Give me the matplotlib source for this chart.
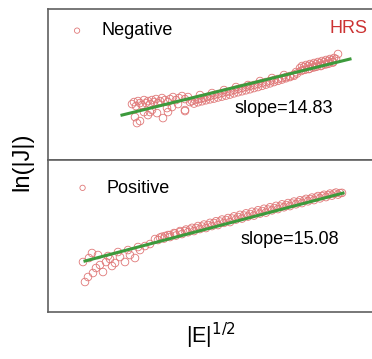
import numpy as np
import matplotlib.pyplot as plt

plt.rcParams['font.family'] = ['Liberation Sans', 'DejaVu Sans']

# negative bias: |E|^1/2 vs ln(|J|)
neg_x = [1.32, 1.34, 1.36, 1.38, 1.40, 1.42, 1.44, 1.46, 1.48, 1.50, 1.52, 1.54, 1.56,
         1.58, 1.60, 1.62, 1.65, 1.68, 1.70, 1.73, 1.76, 1.79, 1.82, 1.85, 1.88,
         1.35, 1.37, 1.40, 1.44, 1.48, 1.52, 1.57, 1.63, 1.67, 1.72, 1.78, 1.85, 1.90,
         1.50, 1.68, 1.85,
         1.92, 1.95, 1.98, 2.01, 2.04, 2.07, 2.10, 2.14, 2.18, 2.22, 2.26, 2.30, 2.34,
         2.38, 2.42, 2.46, 2.50, 2.54, 2.58, 2.62, 2.66, 2.70, 2.74, 2.78, 2.82, 2.86,
         2.90, 2.94, 2.97,
         2.00, 2.12, 2.24, 2.36, 2.48, 2.60, 2.72, 2.84, 2.96,
         1.94, 1.98, 2.02, 2.06, 2.10, 2.14, 2.18, 2.22, 2.26, 2.30, 2.34, 2.38, 2.42,
         2.46, 2.50, 2.54, 2.58, 2.62, 2.66, 2.70, 2.74, 2.78, 2.82, 2.86, 2.90, 2.94,
         3.00, 3.02, 3.04, 3.06, 3.08, 3.10, 3.12, 3.14, 3.16, 3.18, 3.20, 3.22, 3.24,
         3.26, 3.28, 3.30, 3.32, 3.34, 3.36, 3.38, 3.03, 3.09, 3.15, 3.21, 3.27, 3.33,
         3.01, 3.05, 3.09, 3.13, 3.17, 3.21, 3.25, 3.29, 3.33]
neg_y = [-10.4, -10.2, -10.6, -10.1, -10.3, -10.5, -10.0, -10.3, -10.1, -10.4, -10.0, -10.2, -9.9,
         -10.3, -10.1, -9.8, -10.0, -10.2, -9.9, -9.7, -10.0, -9.8, -9.6, -9.9, -9.7,
         -11.7, -12.3, -12.1, -11.2, -11.5, -11.0, -11.3, -11.8, -10.8, -10.7, -10.4, -11.0, -10.2,
         -11.2, -11.2, -11.1,
         -10.1, -10.0, -9.9, -9.85, -9.8, -9.7, -9.6, -9.5, -9.4, -9.3, -9.2, -9.15, -9.0,
         -8.9, -8.8, -8.7, -8.6, -8.5, -8.4, -8.3, -8.2, -8.1, -8.0, -7.9, -7.8, -7.7,
         -7.6, -7.45, -7.35,
         -9.5, -9.3, -9.0, -8.7, -8.5, -8.1, -7.8, -7.5, -7.2,
         -10.35, -10.22, -10.12, -10.02, -9.93, -9.85, -9.74, -9.65, -9.55, -9.45, -9.33, -9.22, -9.12,
         -9.02, -8.92, -8.8, -8.7, -8.58, -8.45, -8.33, -8.2, -8.08, -7.95, -7.82, -7.7, -7.58,
         -6.8, -6.6, -6.7, -6.5, -6.6, -6.4, -6.5, -6.3, -6.4, -6.2, -6.3, -6.1, -6.2,
         -6.0, -6.1, -5.9, -6.0, -5.8, -5.9, -5.4, -7.0, -6.9, -6.7, -6.6, -6.4, -6.2,
         -7.1, -6.98, -6.88, -6.75, -6.65, -6.55, -6.45, -6.35, -6.25]

# positive bias
pos_x = [0.85, 0.88, 0.93, 0.92, 1.03, 0.83, 0.96, 1.00, 0.89, 1.06, 1.10, 1.15, 1.20,
         1.25, 1.30, 1.35, 1.40, 0.98, 1.08, 1.18, 1.28, 1.38, 1.45, 1.12, 1.50,
         1.55, 1.60, 1.65, 1.70, 1.75, 1.80, 1.85, 1.90, 1.96, 2.02, 2.08, 2.14, 2.20,
         2.26, 2.32, 2.38, 2.44, 2.50, 2.56, 2.62, 2.68, 2.74, 2.80, 2.86, 2.92, 2.98,
         3.04, 3.10, 3.16, 3.22, 3.28, 3.34, 3.40,
         1.58, 1.70, 1.82, 1.94, 2.06, 2.18, 2.30, 2.42, 2.54, 2.66, 2.78, 2.90, 3.02,
         3.14, 3.26, 3.38,
         1.62, 1.68, 1.74, 1.80, 1.86, 1.92, 1.98, 2.04, 2.10, 2.16, 2.22, 2.28, 2.34,
         2.40, 2.46, 2.52, 2.58, 2.64, 2.70, 2.76, 2.82, 2.88, 2.94, 3.00, 3.06, 3.12,
         3.18, 3.24, 3.30, 3.36,
         1.64, 1.76, 1.88, 2.00, 2.12, 2.24, 2.36, 2.48, 2.60, 2.72, 2.84, 2.96, 3.08,
         3.20, 3.32, 3.42]
pos_y = [-13.2, -12.7, -12.3, -10.3, -12.2, -11.2, -11.8, -11.5, -10.8, -11.2, -10.9, -11.3, -10.7,
         -11.2, -10.5, -10.8, -10.0, -10.5, -10.6, -10.2, -10.0, -9.7, -9.6, -11.6, -9.4,
         -8.9, -8.75, -8.6, -8.5, -8.35, -8.2, -8.1, -7.95, -7.8, -7.65, -7.5, -7.3, -7.15,
         -7.0, -6.85, -6.7, -6.55, -6.4, -6.25, -6.1, -5.95, -5.8, -5.65, -5.5, -5.35, -5.2,
         -5.05, -4.9, -4.75, -4.6, -4.5, -4.35, -4.3,
         -9.0, -8.7, -8.4, -8.1, -7.8, -7.5, -7.2, -6.85, -6.55, -6.25, -5.9, -5.6, -5.3,
         -5.0, -4.7, -4.45,
         -8.67, -8.5, -8.3, -8.1, -7.95, -7.78, -7.6, -7.45, -7.28, -7.12, -6.95, -6.8, -6.63,
         -6.48, -6.33, -6.17, -6.02, -5.87, -5.72, -5.58, -5.43, -5.3, -5.15, -5.02, -4.88, -4.75,
         -4.6, -4.47, -4.35, -4.25,
         -8.85, -8.55, -8.22, -7.9, -7.6, -7.28, -6.95, -6.65, -6.35, -6.03, -5.72, -5.42, -5.12,
         -4.83, -4.55, -4.28]

# fitted lines (end points)
neg_fit_x = [1.22, 3.50]
neg_fit_y = [-11.5, -5.9]
pos_fit_x = [0.85, 3.43]
pos_fit_y = [-11.1, -4.3]

fig = plt.figure(figsize=(3.72, 3.59), dpi=100)
ax1 = fig.add_axes([0.129, 0.554, 0.871, 0.421])
ax2 = fig.add_axes([0.129, 0.131, 0.871, 0.423])

red = '#e07878'
green = '#3c9a3c'
panels = [
    (ax1, neg_x, neg_y, neg_fit_x, neg_fit_y, 'Negative', 'slope=14.83', 0.577, 0.344, (-0.005, 0.995)),
    (ax2, pos_x, pos_y, pos_fit_x, pos_fit_y, 'Positive', 'slope=15.08', 0.593, 0.474, (0.012, 0.955)),
]
for ax, x, y, fx, fy, name, slope, sx, sy, anchor in panels:
    ax.scatter(x, y, s=30, facecolors='none', edgecolors=red, linewidths=0.6, label=name)
    ax.plot(fx, fy, color=green, lw=2.2)
    ax.set_xlim(0.48, 3.72)
    ax.set_xticks([])
    ax.set_yticks([])
    ax.spines['right'].set_visible(False)
    for s in ['top', 'bottom', 'left']:
        ax.spines[s].set_color('#606060')
        ax.spines[s].set_linewidth(1.2)
    ax.text(sx, sy, slope, transform=ax.transAxes, fontsize=13, va='center')
    ax.legend(loc='upper left', frameon=False, fontsize=13, markerscale=0.7,
              handletextpad=0.35, borderaxespad=0.3, bbox_to_anchor=anchor)

ax1.set_ylim(-16.0, -0.9)
ax2.set_ylim(-16.2, -1.0)
ax1.text(0.985, 0.87, 'HRS', color='#cc3333', fontsize=13, ha='right', va='center',
         transform=ax1.transAxes)

fig.text(0.059, 0.549, 'ln(|J|)', rotation=90, fontsize=17, ha='center', va='center')
fig.text(0.566, 0.064, r'|E|$^{1/2}$', fontsize=15.5, ha='center', va='center')

plt.savefig('out.png', dpi=100)
